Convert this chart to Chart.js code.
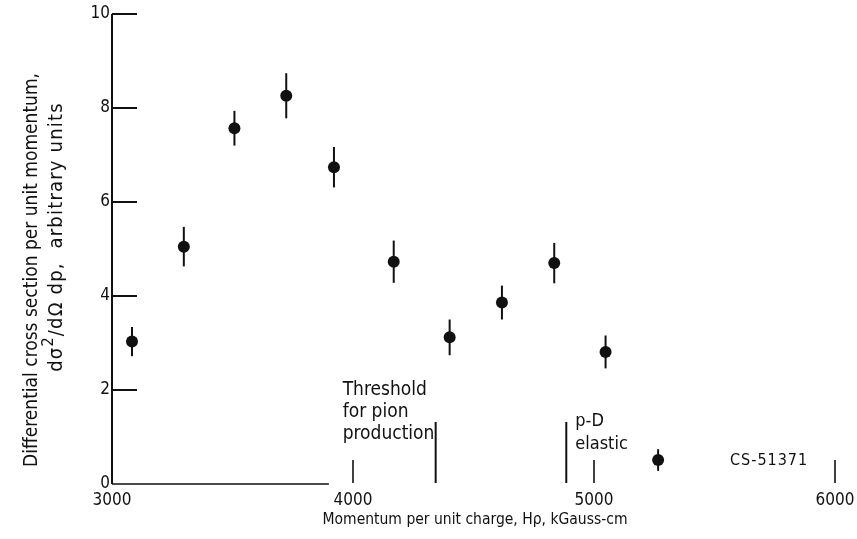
<!DOCTYPE html>
<html>
<head>
<meta charset="utf-8">
<script src="https://cdn.jsdelivr.net/npm/chart.js@4.4.1/dist/chart.umd.min.js"></script>
<style>
  html, body { margin: 0; padding: 0; background: #fff; }
</style>
</head>
<body>
<canvas id="sectionChart" width="857" height="539"></canvas>
<script>
'use strict';

// momentum per unit charge (kGauss-cm) and measured cross section
const momentum = [3083, 3298, 3508, 3723, 3921, 4169, 4401, 4618, 4835, 5048, 5266];
const crossSection = [3.03, 5.05, 7.57, 8.26, 6.74, 4.73, 3.12, 3.86, 4.70, 2.81, 0.51];
const crossSectionErr = [0.31, 0.42, 0.37, 0.48, 0.43, 0.45, 0.38, 0.36, 0.43, 0.35, 0.23];

const xTicks = [3000, 4000, 5000, 6000];
const yTicks = [0, 2, 4, 6, 8, 10];
// pion production threshold, p-D elastic peak
const markerMomentum = [4343, 4885];
const axisLineEnd = 3900;

const FONT = "'DejaVu Sans Condensed', 'DejaVu Sans', sans-serif";
const INK = '#111';

Chart.defaults.font.family = FONT;
Chart.defaults.color = INK;

let errorBars = {
    id: 'errorBars',
    beforeDatasetsDraw(chart) {
        let ctx = chart.ctx, x = chart.scales.x, y = chart.scales.y;
        ctx.save();
        ctx.strokeStyle = INK;
        ctx.lineWidth = 2;
        for (let i = 0; i < momentum.length; i++) {
            let px = x.getPixelForValue(momentum[i]);
            ctx.beginPath();
            ctx.moveTo(px, y.getPixelForValue(crossSection[i] + crossSectionErr[i]));
            ctx.lineTo(px, y.getPixelForValue(crossSection[i] - crossSectionErr[i]));
            ctx.stroke();
        }
        ctx.restore();
    }
};

let axesAndNotes = {
    id: 'axesAndNotes',
    afterDraw(chart) {
        let ctx = chart.ctx, x = chart.scales.x, y = chart.scales.y;
        let x0 = x.getPixelForValue(3000), y0 = y.getPixelForValue(0);
        ctx.save();
        ctx.strokeStyle = INK;
        ctx.fillStyle = INK;

        // y axis with inward ticks
        ctx.lineWidth = 2;
        ctx.beginPath();
        ctx.moveTo(x0, y.getPixelForValue(10));
        ctx.lineTo(x0, y0);
        ctx.stroke();
        yTicks.slice(1).forEach(v => {
            let py = y.getPixelForValue(v);
            ctx.beginPath();
            ctx.moveTo(x0, py);
            ctx.lineTo(x0 + 25, py);
            ctx.stroke();
        });

        // x axis only drawn part way
        ctx.lineWidth = 1.6;
        ctx.beginPath();
        ctx.moveTo(x0, y0);
        ctx.lineTo(x.getPixelForValue(axisLineEnd), y0);
        ctx.stroke();

        // short marks for the x ticks
        xTicks.slice(1).forEach(v => {
            let px = x.getPixelForValue(v);
            ctx.beginPath();
            ctx.moveTo(px, y0 - 1);
            ctx.lineTo(px, y0 - 24);
            ctx.stroke();
        });

        // threshold / elastic lines
        ctx.lineWidth = 2;
        markerMomentum.forEach(v => {
            let px = x.getPixelForValue(v);
            ctx.beginPath();
            ctx.moveTo(px, y0 - 1);
            ctx.lineTo(px, y0 - 62);
            ctx.stroke();
        });

        ctx.textAlign = 'left';
        ctx.textBaseline = 'alphabetic';
        ctx.font = '19px ' + FONT;
        let tx = x.getPixelForValue(markerMomentum[0]) - 93;
        ctx.fillText('Threshold', tx, 395);
        ctx.fillText('for pion', tx, 417);
        ctx.fillText('production', tx, 439);

        ctx.font = '18px ' + FONT;
        let ex = x.getPixelForValue(markerMomentum[1]) + 9;
        ctx.fillText('p-D', ex, 426);
        ctx.fillText('elastic', ex, 449);

        ctx.font = '16px ' + FONT;
        ctx.letterSpacing = '1px';
        ctx.fillText('CS-51371', 730, 465);
        ctx.letterSpacing = '0px';

        // x title
        ctx.font = '15.5px ' + FONT;
        ctx.textAlign = 'center';
        ctx.textBaseline = 'middle';
        ctx.fillText('Momentum per unit charge, H\u03c1, kGauss-cm', 475, 520);

        // rotated y title, two lines
        ctx.font = '19px ' + FONT;
        ctx.save();
        ctx.translate(32, 270);
        ctx.rotate(-Math.PI / 2);
        ctx.fillText('Differential cross section per unit momentum,', 0, 0);
        ctx.restore();

        let parts = [
            { t: 'd\u03c3', sup: false },
            { t: '2', sup: true },
            { t: '/d\u03a9 dp,  arbitrary units', sup: false }
        ];
        let supFont = '16px ' + FONT;
        let mainFont = '20px ' + FONT;
        ctx.letterSpacing = '1.2px';
        let total = 0;
        parts.forEach(p => {
            ctx.font = p.sup ? supFont : mainFont;
            p.w = ctx.measureText(p.t).width;
            total += p.w;
        });
        ctx.save();
        ctx.translate(57, 237);
        ctx.rotate(-Math.PI / 2);
        ctx.textAlign = 'left';
        let cx = -total / 2;
        parts.forEach(p => {
            ctx.font = p.sup ? supFont : mainFont;
            ctx.fillText(p.t, cx, p.sup ? -8 : 0);
            cx += p.w;
        });
        ctx.restore();

        ctx.restore();
    }
};

let sectionChart = new Chart(document.getElementById('sectionChart'), {
    type: 'scatter',
    data: {
        datasets: [{
            label: 'cross section',
            data: momentum.map((m, i) => ({ x: m, y: crossSection[i] })),
            pointRadius: 6,
            pointBackgroundColor: INK,
            pointBorderWidth: 0
        }]
    },
    options: {
        responsive: false,
        animation: false,
        layout: { padding: { top: 14, right: 22, left: 0, bottom: 0 } },
        plugins: {
            legend: { display: false },
            tooltip: { enabled: false },
            title: { display: false }
        },
        scales: {
            x: {
                type: 'linear',
                min: 3000,
                max: 6000,
                afterBuildTicks: s => { s.ticks = xTicks.map(v => ({ value: v })); },
                afterFit: s => {
                    s.height = 55;
                    s.paddingLeft = 0;
                    s.paddingRight = 0;
                },
                grid: { display: false, drawTicks: false },
                border: { display: false },
                ticks: {
                    font: { size: 17 },
                    padding: 6,
                    maxRotation: 0,
                    color: INK,
                    callback: v => String(v)
                }
            },
            y: {
                min: 0,
                max: 10,
                afterBuildTicks: s => { s.ticks = yTicks.map(v => ({ value: v })); },
                afterFit: s => { s.width = 112; },
                grid: { display: false, drawTicks: false },
                border: { display: false },
                ticks: { font: { size: 17 }, padding: 2, color: INK, callback: v => String(v) }
            }
        }
    },
    plugins: [errorBars, axesAndNotes]
});
</script>
</body>
</html>
